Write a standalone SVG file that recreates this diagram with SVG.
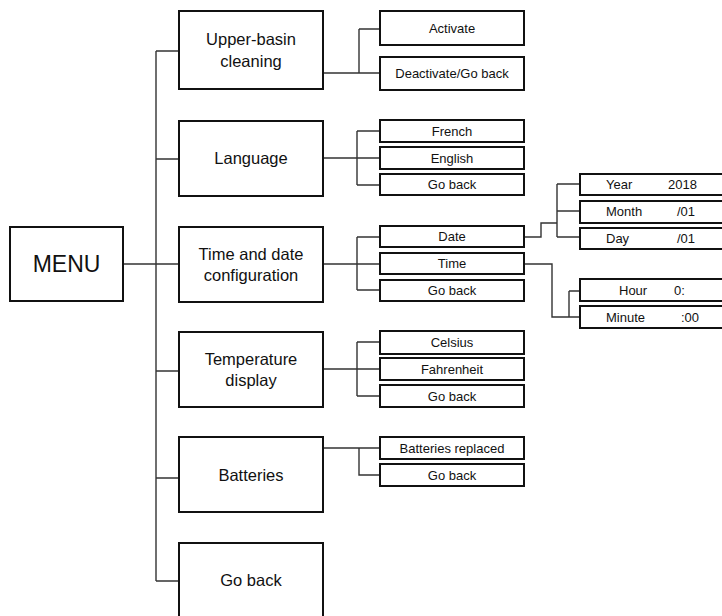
<svg xmlns="http://www.w3.org/2000/svg" width="722" height="616" viewBox="0 0 722 616">
<style>
rect{fill:#fff;stroke:#111;stroke-width:2}
.c path{fill:none;stroke:#333;stroke-width:1.4}
text{font-family:"Liberation Sans",Arial,sans-serif;fill:#111}
.l0{font-size:23px;text-anchor:middle}
.l1{font-size:16.5px;text-anchor:middle}
.l2{font-size:13px;text-anchor:middle}
.l3{font-size:13px}
</style>
<rect x="0" y="0" width="722" height="616" style="stroke:none"/>
<g class="c" id="connectors">
<path d="M123 264H179M156 51V581M156 51H179M156 159H179M156 371H179M156 478H179M156 581H179"/>
<path d="M323 73H380M359 29V73M359 29H380"/>
<path d="M323 158H380M357 131V185M357 131H380M357 185H380"/>
<path d="M323 264H380M357 237V290M357 237H380M357 290H380"/>
<path d="M524 237H541V223H557M557 184V237M557 184H580M557 211H580M557 237H580"/>
<path d="M524 264H552V317H580M569 291V317M569 291H580"/>
<path d="M323 369H380M357 342V396M357 342H380M357 396H380"/>
<path d="M323 448H380M359 448V475H380"/>
</g>
<g id="menu"><rect x="10" y="227" width="113" height="74"/><text class="l0" x="66.5" y="272">MENU</text></g>
<g id="upper-basin"><rect x="179" y="11" width="144" height="78"/><text class="l1" x="251" y="45">Upper-basin</text><text class="l1" x="251" y="67">cleaning</text></g>
<g id="language"><rect x="179" y="121" width="144" height="75"/><text class="l1" x="251" y="164">Language</text></g>
<g id="time-date"><rect x="179" y="227" width="144" height="75"/><text class="l1" x="251" y="260">Time and date</text><text class="l1" x="251" y="281">configuration</text></g>
<g id="temperature"><rect x="179" y="332" width="144" height="75"/><text class="l1" x="251" y="365">Temperature</text><text class="l1" x="251" y="386">display</text></g>
<g id="batteries"><rect x="179" y="437" width="144" height="75"/><text class="l1" x="251" y="481">Batteries</text></g>
<g id="goback-main"><rect x="179" y="543" width="144" height="76"/><text class="l1" x="251" y="586">Go back</text></g>

<g id="activate"><rect x="380" y="11" width="144" height="34"/><text class="l2" x="452" y="33">Activate</text></g>
<g id="deactivate"><rect x="380" y="57" width="144" height="33"/><text class="l2" x="452" y="78">Deactivate/Go back</text></g>

<g id="french"><rect x="380" y="120" width="144" height="22"/><text class="l2" x="452" y="136">French</text></g>
<g id="english"><rect x="380" y="147" width="144" height="22"/><text class="l2" x="452" y="163">English</text></g>
<g id="goback-lang"><rect x="380" y="174" width="144" height="21"/><text class="l2" x="452" y="189">Go back</text></g>

<g id="date"><rect x="380" y="226" width="144" height="21"/><text class="l2" x="452" y="241">Date</text></g>
<g id="time"><rect x="380" y="253" width="144" height="21"/><text class="l2" x="452" y="268">Time</text></g>
<g id="goback-time"><rect x="380" y="280" width="144" height="21"/><text class="l2" x="452" y="295">Go back</text></g>

<g id="year"><rect x="580" y="174" width="150" height="21"/><text class="l3" x="606" y="189">Year</text><text class="l3" x="668" y="189">2018</text></g>
<g id="month"><rect x="580" y="201" width="150" height="22"/><text class="l3" x="606" y="216">Month</text><text class="l3" x="677" y="216">/01</text></g>
<g id="day"><rect x="580" y="228" width="150" height="21"/><text class="l3" x="606" y="243">Day</text><text class="l3" x="677" y="243">/01</text></g>
<g id="hour"><rect x="580" y="279" width="150" height="22"/><text class="l3" x="619" y="295">Hour</text><text class="l3" x="674" y="295">0:</text></g>
<g id="minute"><rect x="580" y="306" width="150" height="22"/><text class="l3" x="606" y="322">Minute</text><text class="l3" x="681" y="322">:00</text></g>

<g id="celsius"><rect x="380" y="331" width="144" height="23"/><text class="l2" x="452" y="347">Celsius</text></g>
<g id="fahrenheit"><rect x="380" y="358" width="144" height="22"/><text class="l2" x="452" y="374">Fahrenheit</text></g>
<g id="goback-temp"><rect x="380" y="385" width="144" height="22"/><text class="l2" x="452" y="401">Go back</text></g>

<g id="batteries-replaced"><rect x="380" y="437" width="144" height="22"/><text class="l2" x="452" y="453">Batteries replaced</text></g>
<g id="goback-bat"><rect x="380" y="464" width="144" height="22"/><text class="l2" x="452" y="480">Go back</text></g>
</svg>
